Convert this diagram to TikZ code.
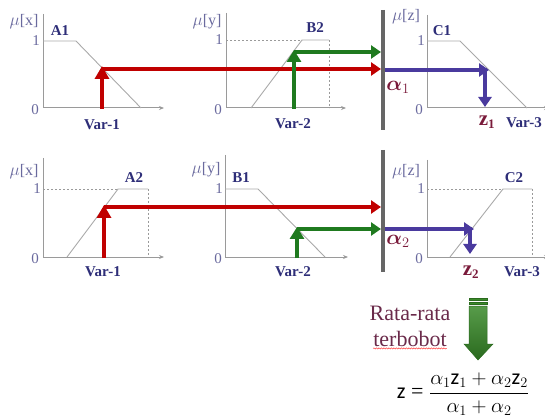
\documentclass[tikz,border=0pt]{standalone}
\usepackage{amsmath}
\usepackage{bm}
\usepackage{fontspec}
\setmainfont{Liberation Serif}
\newfontfamily\formfont{Carlito}
\usetikzlibrary{arrows.meta,decorations.pathmorphing}
\definecolor{lbl}{HTML}{2E2E78}
\definecolor{axl}{HTML}{6A6A9E}
\definecolor{axisg}{HTML}{9A9A9A}
\definecolor{redA}{HTML}{C00000}
\definecolor{greenA}{HTML}{1F7A1F}
\definecolor{blueA}{HTML}{4A3A9E}
\definecolor{maroonA}{HTML}{7A1A3A}
\definecolor{barg}{HTML}{666666}
\definecolor{garrow}{HTML}{3A8A2A}
\definecolor{garrowd}{HTML}{2A6A1E}
\definecolor{ratac}{HTML}{6A2A4A}
\tikzset{
  axisline/.style={draw=axisg, line width=1pt, -{Stealth[length=5pt,width=4pt]}},
  yaxis/.style={draw=axisg, line width=1pt},
  mf/.style={draw=axisg!85, line width=0.9pt},
  dsh/.style={draw=axisg, line width=0.9pt, dash pattern=on 2pt off 2pt},
  setname/.style={text=lbl, font=\fontsize{15}{15}\selectfont\bfseries, inner sep=0pt},
  varname/.style={text=lbl, font=\fontsize{15}{15}\selectfont\bfseries, inner sep=0pt},
  mulbl/.style={text=axl, font=\fontsize{16}{16}\selectfont, inner sep=0pt},
  tick/.style={text=axl, font=\fontsize{15}{15}\selectfont, inner sep=0pt},
  redarr/.style={draw=redA, line width=4pt, -{Triangle[length=10pt,width=13pt]}},
  redup/.style={draw=redA, line width=4pt, -{Triangle[length=13pt,width=14pt]}},
  grnarr/.style={draw=greenA, line width=4pt, -{Triangle[length=10pt,width=13pt]}},
  grnup/.style={draw=greenA, line width=4pt, -{Triangle[length=12pt,width=14pt]}},
  bluarr/.style={draw=blueA, line width=4pt, -{Triangle[length=10pt,width=13pt]}},
  bar/.style={draw=barg, line width=4pt},
  alab/.style={text=maroonA, font=\fontsize{21}{21}\selectfont\bfseries, inner sep=0pt},
}
\begin{document}
\begin{tikzpicture}[x=1pt,y=-1pt]
\useasboundingbox (0,0) rectangle (545,419);
% ================= TOP ROW =================
% panel A1
\coordinate (o1) at (43,108);
\draw[yaxis] (43,14) -- (o1);
\draw[axisline] (o1) -- (164,108);
\draw[mf] (43,41) -- (76,41) -- (141,108);
\node[mulbl] (mu1) at (24,22) {$\mu$[x]};
\node[tick] (t11) at (36,41) {1};
\node[tick] (t10) at (35,110) {0};
\node[setname] (A1) at (60,31) {A1};
\node[varname] (v1) at (102,125) {Var-1};
\coordinate (r1b) at (102,109);
\coordinate (r1t) at (102,66);
\coordinate (r1s) at (102,69);
\coordinate (r1e) at (381,69);
% panel B2
\coordinate (o2) at (226,108);
\draw[yaxis] (226,13) -- (o2);
\draw[axisline] (o2) -- (346,108);
\draw[dsh] (226,40) -- (302,40);
\draw[dsh] (329,40) -- (329,108);
\draw[mf] (251,108) -- (302,40) -- (329,40);
\node[mulbl] (mu2) at (207,22) {$\mu$[y]};
\node[tick] (t21) at (219,40) {1};
\node[tick] (t20) at (218,110) {0};
\node[setname] (B2) at (315,28) {B2};
\node[varname] (v2) at (293,124) {Var-2};
\coordinate (g1b) at (294,109);
\coordinate (g1t) at (294,50);
\coordinate (g1s) at (294,52);
\coordinate (g1e) at (381,52);
% bar 1
\draw[bar] (383,10) -- (383,130);
% panel C1
\coordinate (o3) at (427,108);
\draw[yaxis] (427,15) -- (o3);
\draw[axisline] (o3) -- (549,108);
\draw[mf] (427,41) -- (460,41) -- (527,108);
\node[mulbl] (mu3) at (406,17) {$\mu$[z]};
\node[tick] (t31) at (421,41) {1};
\node[tick] (t30) at (419,110) {0};
\node[setname] (C1) at (442,31) {C1};
\node[varname] (v3) at (524,123) {Var-3};
\coordinate (b1s) at (385,70);
\coordinate (b1e) at (489,70);
\coordinate (b1d) at (485,68);
\coordinate (b1f) at (485,107);
\node[alab] (al1) at (398,87) {$\bm{\alpha}_1$};
\node[alab] (z1) at (487,122) {z\textsubscript{\fontsize{13}{13}\selectfont 1}};
% arrows top
\draw[redup] (r1b) -- (r1t);
\draw[redarr] (r1s) -- (r1e);
\draw[grnup] (g1b) -- (g1t);
\draw[grnarr] (g1s) -- (g1e);
\draw[bluarr] (b1s) -- (b1e);
\draw[bluarr] (b1d) -- (b1f);
% ================= BOTTOM ROW =================
% panel A2
\coordinate (o4) at (43,257);
\draw[yaxis] (43,158) -- (o4);
\draw[axisline] (o4) -- (164,257);
\draw[dsh] (43,189) -- (118,189);
\draw[dsh] (148,189) -- (148,257);
\draw[mf] (67,257) -- (118,189) -- (148,189);
\node[mulbl] (mu4) at (24,172) {$\mu$[x]};
\node[tick] (t41) at (37,189) {1};
\node[tick] (t40) at (35,259) {0};
\node[setname] (A2) at (134,178) {A2};
\node[varname] (v4) at (103,272) {Var-1};
\coordinate (r2b) at (104,258);
\coordinate (r2t) at (104,205);
\coordinate (r2s) at (104,207);
\coordinate (r2e) at (381,207);
% panel B1
\coordinate (o5) at (225,257);
\draw[yaxis] (225,155) -- (o5);
\draw[axisline] (o5) -- (348,257);
\draw[mf] (225,189) -- (258,189) -- (325,257);
\node[mulbl] (mu5) at (206,170) {$\mu$[y]};
\node[tick] (t51) at (219,189) {1};
\node[tick] (t50) at (218,259) {0};
\node[setname] (B1) at (241,178) {B1};
\node[varname] (v5) at (293,272) {Var-2};
\coordinate (g2b) at (297,258);
\coordinate (g2t) at (297,227);
\coordinate (g2s) at (297,229);
\coordinate (g2e) at (381,229);
% bar 2
\draw[bar] (383,150) -- (383,272);
% panel C2
\coordinate (o6) at (427,257);
\draw[yaxis] (427,160) -- (o6);
\draw[axisline] (o6) -- (549,257);
\draw[dsh] (427,189) -- (503,189);
\draw[dsh] (532,189) -- (532,257);
\draw[mf] (450,257) -- (503,189) -- (532,189);
\node[mulbl] (mu6) at (406,172) {$\mu$[z]};
\node[tick] (t61) at (421,189) {1};
\node[tick] (t60) at (419,259) {0};
\node[setname] (C2) at (514,178) {C2};
\node[varname] (v6) at (522,272) {Var-3};
\coordinate (b2s) at (385,229);
\coordinate (b2e) at (474,229);
\coordinate (b2d) at (470,227);
\coordinate (b2f) at (470,254);
\node[alab] (al2) at (398,241) {$\bm{\alpha}_2$};
\node[alab] (z2) at (471,272) {z\textsubscript{\fontsize{13}{13}\selectfont 2}};
% arrows bottom
\draw[redup] (r2b) -- (r2t);
\draw[redarr] (r2s) -- (r2e);
\draw[grnup] (g2b) -- (g2t);
\draw[grnarr] (g2s) -- (g2e);
\draw[bluarr] (b2s) -- (b2e);
\draw[bluarr] (b2d) -- (b2f);
% ================= BOTTOM TEXT =================
\node[text=ratac, font=\fontsize{22}{22}\selectfont, inner sep=0pt] (rr) at (410,313) {Rata-rata};
\node[text=ratac, font=\fontsize{22}{22}\selectfont, inner sep=0pt] (tb) at (410,339) {terbobot};
\draw[red!80, line width=0.5pt, decorate, decoration={snake, amplitude=0.6pt, segment length=2.5pt}] ([yshift=-1.5pt]tb.south west) -- ([yshift=-1.5pt]tb.south east);
% green striped arrow
\fill[garrow, draw=garrowd, line width=0.5pt] (469,298) rectangle (487,300);
\fill[garrow, draw=garrowd, line width=0.5pt] (469,302) rectangle (487,304);
\shade[top color=garrow!85!white, bottom color=garrowd, draw=garrowd, line width=0.5pt] (469,306) -- (487,306) -- (487,344) -- (493,344) -- (478,360) -- (464,344) -- (469,344) -- cycle;
% formula
\node[inner sep=0pt, font=\fontsize{22}{22}\selectfont] (form) at (463,394) {{\formfont z} = $\dfrac{\alpha_1\mbox{\formfont z}_{1} + \alpha_2\mbox{\formfont z}_{2}}{\alpha_1 + \alpha_2}$};
\end{tikzpicture}
\end{document}
